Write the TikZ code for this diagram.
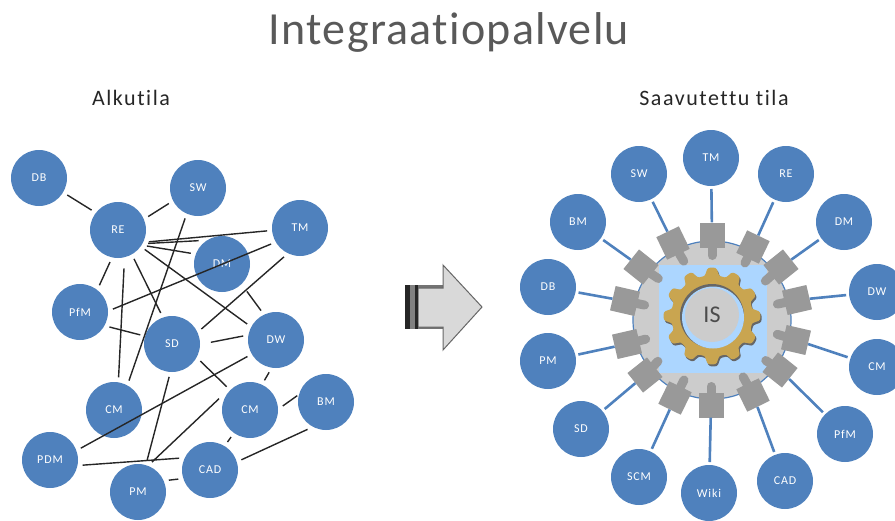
\documentclass[tikz,border=0pt]{standalone}
\usepackage{fontspec}
\setmainfont[Ligatures=NoCommon]{Carlito}
\newfontfamily\titlefont[Ligatures=NoCommon,LetterSpace=2.8]{Carlito}
\newfontfamily\capfont[Ligatures=NoCommon,LetterSpace=7]{Carlito}
\definecolor{hubblue}{HTML}{4F81BD}
\definecolor{plugrey}{HTML}{999999}
\definecolor{ringgrey}{HTML}{CCCCCC}
\definecolor{paleblue}{HTML}{ACD6FF}
\definecolor{gearyellow}{HTML}{C9A550}
\definecolor{titlegrey}{HTML}{595959}
\begin{document}
\begin{tikzpicture}[x=1pt,y=-1pt,
    hub/.style={circle,fill=hubblue,minimum size=56pt,inner sep=0pt,outer sep=5pt,text=white,font=\capfont\fontsize{12}{13}\selectfont},
    rhub/.style={hub,outer sep=3pt},
    wire/.style={line width=1.4pt,black!85},
    link/.style={line width=2.6pt,hubblue},
    plugbox/.style={rectangle,fill=plugrey,minimum size=25pt,inner sep=0pt},
    stem/.style={line width=9pt,plugrey,line cap=round,shorten >=4.5pt},
    caption/.style={font=\capfont\fontsize{22}{24}\selectfont,text=black!85}]
        \useasboundingbox(0,0)rectangle(895,520);
        \node[font=\titlefont\fontsize{46}{50}\selectfont,text=titlegrey](title)at(449,32){Integraatiopalvelu};
        \node[caption](start)at(131,98){Alkutila};
        \node[caption](goal)at(714,98){Saavutettu tila};

        \node[hub](DB)at(39,178){DB};
        \node[hub](RE)at(118,230){RE};
        \node[hub](SW)at(198,188){SW};
        \node[hub](TM)at(300,228){TM};
        \node[hub](DM)at(222,264){DM};
        \node[hub](PfM)at(80,312){PfM};
        \node[hub](SD)at(172,344){SD};
        \node[hub](DW)at(276,340){DW};
        \node[hub](CMa)at(114,410){CM};
        \node[hub](CMb)at(250,410){CM};
        \node[hub](BM)at(326,402){BM};
        \node[hub](PDM)at(50,460){PDM};
        \node[hub](CAD)at(210,470){CAD};
        \node[hub](PM)at(138,492){PM};

        \draw[wire](DB.-31)--(RE.143);
        \draw[wire](RE.24)--(SW.208);
        \draw[wire](SW.-113)--(CMa.63);
        \draw[wire](RE.-21)--(TM.185);
        \draw[wire](RE.-24)--(DM.135);
        \draw[wire](RE.-29)--(DM.161);
        \draw[wire](RE.-36)--(DW.151);
        \draw[wire](RE.-61)--(SD.110);
        \draw[wire](RE.-104)--(PfM.54);
        \draw[wire,shorten <=6pt](RE.-79)--(CMa.82);
        \draw[wire](PfM.5)--(TM.209);
        \draw[wire](PfM.-27)--(SD.164);
        \draw[wire](TM.-119)--(SD.27);
        \draw[wire,shorten <=4pt](DM.-47)--(DW.117);
        \draw[wire,shorten <=6pt](SD.1)--(DW.173);
        \draw[wire](SD.-31)--(CMb.135);
        \draw[wire](DW.210)--(PDM.21);
        \draw[wire](DW.-102)--(CMb.64);
        \draw[wire,shorten >=-5pt](CMb.7)--(BM.174);
        \draw[wire](CMb.160)--(PM.65);
        \draw[wire](SD.-95)--(PM.74);
        \draw[wire](PDM.-9)--(CAD.159);
        \draw[wire](PM.21)--(CAD.196);
        \draw[wire](CMb.235)--(CAD.58);
        \draw[wire](BM.236)--(CAD.18);

        \fill[black!55](405,285)rectangle(443,329);
        \draw[fill=black!15,draw=black!60,line width=1pt](418,288)--(443,288)--(443,265)--(482,307)--(443,350)--(443,327)--(418,327)--cycle;
        \fill[black!85](405,285)rectangle(410,329);
        \fill[black!50](410,285)rectangle(415,329);
        \fill[black!85](415,285)rectangle(418,329);

        \draw[fill=ringgrey,draw=hubblue,line width=1.2pt](712,320)circle(79);
        \fill[paleblue](659,265)rectangle(767,373);
        \fill[black!60,shift={(713.2,318)}]plot[smooth,samples=181,domain=0:360](\x:{44.5+4*tanh(2.2*cos(12*\x))})--cycle;
        \fill[gearyellow,shift={(712,316)}]plot[smooth,samples=181,domain=0:360](\x:{44.5+4*tanh(2.2*cos(12*\x))})--cycle;
        \fill[black!60](712,316)circle(32);
        \fill[paleblue](713,317.5)circle(31);
        \node[circle,fill=ringgrey,minimum size=54pt,inner sep=0pt,font=\fontsize{24}{26}\selectfont,text=black!70](IS)at(712,315){IS};

        \node[rhub](rTM)at(711,158){TM};
        \node[rhub](rRE)at(786,174){RE};
        \node[rhub](rDM)at(844,222){DM};
        \node[rhub](rDW)at(877,292){DW};
        \node[rhub](rCM)at(877,367){CM};
        \node[rhub](rPfM)at(845,434){PfM};
        \node[rhub](rCAD)at(785,481){CAD};
        \node[rhub](rWiki)at(709,493){Wiki};
        \node[rhub](rSCM)at(639,477){SCM};
        \node[rhub](rSD)at(581,429){SD};
        \node[rhub](rPM)at(548,361){PM};
        \node[rhub](rDB)at(548,287){DB};
        \node[rhub](rBM)at(578,222){BM};
        \node[rhub](rSW)at(639,174){SW};

        \node[plugbox](pTM)at(712,235){};
        \node[plugbox,rotate=-25.7](pRE)at(753,247){};
        \node[plugbox,rotate=-51.4](pDM)at(781,267){};
        \node[plugbox,rotate=-77](pDW)at(797,300){};
        \node[plugbox,rotate=-103](pCM)at(796,340){};
        \node[plugbox,rotate=-128.6](pPfM)at(780,370){};
        \node[plugbox,rotate=-154](pCAD)at(753,395){};
        \node[plugbox](pWiki)at(711,405){};
        \node[plugbox,rotate=154](pSCM)at(675,398){};
        \node[plugbox,rotate=128.6](pSD)at(645,375){};
        \node[plugbox,rotate=103](pPM)at(627,344){};
        \node[plugbox,rotate=77](pDB)at(625,301){};
        \node[plugbox,rotate=51.4](pBM)at(641,267){};
        \node[plugbox,rotate=25.7](pSW)at(673,243){};

        \coordinate(sTM)at(712,260);
        \coordinate(sRE)at(743,267);
        \coordinate(sDM)at(762,284);
        \coordinate(sDW)at(773,305);
        \coordinate(sCM)at(773,333);
        \coordinate(sPfM)at(762,358);
        \coordinate(sCAD)at(741,373);
        \coordinate(sWiki)at(711,382);
        \coordinate(sSCM)at(686,376);
        \coordinate(sSD)at(661,358);
        \coordinate(sPM)at(650,338);
        \coordinate(sDB)at(649,306);
        \coordinate(sBM)at(662,281);
        \coordinate(sSW)at(686,265);

        \draw[stem](pTM)--(sTM);
        \draw[stem](pRE)--(sRE);
        \draw[stem](pDM)--(sDM);
        \draw[stem](pDW)--(sDW);
        \draw[stem](pCM)--(sCM);
        \draw[stem](pPfM)--(sPfM);
        \draw[stem](pCAD)--(sCAD);
        \draw[stem](pWiki)--(sWiki);
        \draw[stem](pSCM)--(sSCM);
        \draw[stem](pSD)--(sSD);
        \draw[stem](pPM)--(sPM);
        \draw[stem](pDB)--(sDB);
        \draw[stem](pBM)--(sBM);
        \draw[stem](pSW)--(sSW);

        \draw[link](rTM)--(pTM);
        \draw[link](rRE)--(pRE);
        \draw[link](rDM)--(pDM);
        \draw[link](rDW)--(pDW);
        \draw[link](rCM)--(pCM);
        \draw[link](rPfM)--(pPfM);
        \draw[link](rCAD)--(pCAD);
        \draw[link](rWiki)--(pWiki);
        \draw[link](rSCM)--(pSCM);
        \draw[link](rSD)--(pSD);
        \draw[link](rPM)--(pPM);
        \draw[link](rDB)--(pDB);
        \draw[link](rBM)--(pBM);
        \draw[link](rSW)--(pSW);
    \end{tikzpicture}
\end{document}
